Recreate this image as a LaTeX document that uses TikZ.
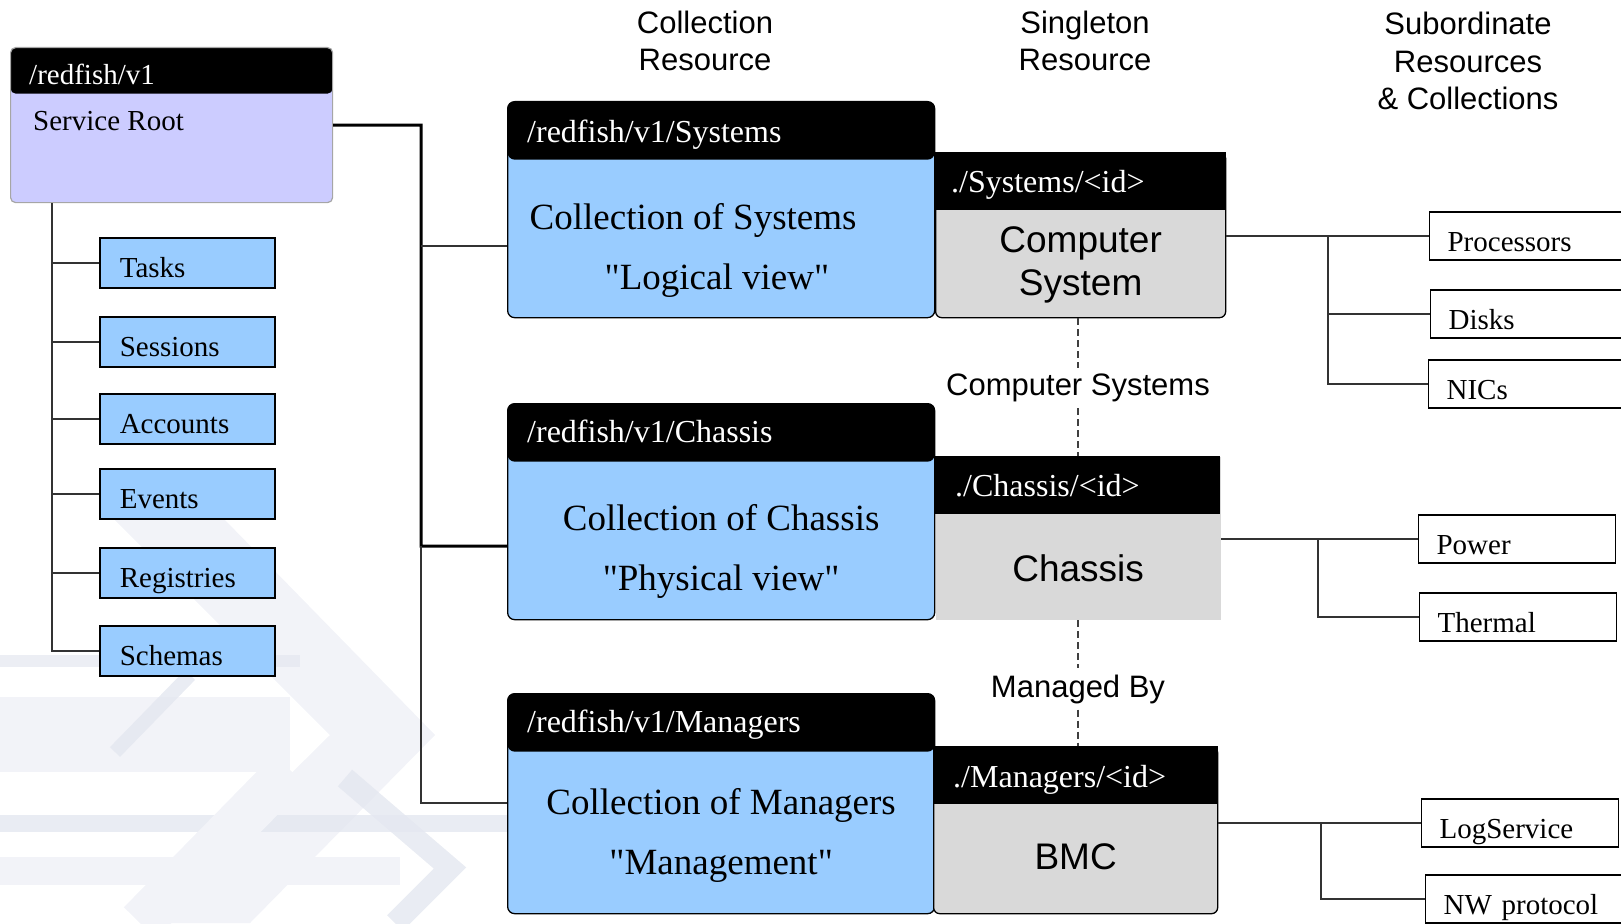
\documentclass[tikz,border=0pt]{standalone}
\usepackage{fontspec}
\setmainfont{Liberation Serif}[Ligatures=TeXOff]
\newfontfamily\arialfont{Liberation Sans}
\definecolor{rootfill}{HTML}{CCCCFF}
\definecolor{colfill}{HTML}{99CCFF}
\definecolor{sgfill}{HTML}{D9D9D9}
\definecolor{wmlight}{HTML}{F2F3F8}
\definecolor{wmdark}{HTML}{E4E7F0}
\begin{document}
\begin{tikzpicture}[x=1pt,y=-1pt,
	rootbox/.style={draw=gray!70, line width=1.2, fill=rootfill, rounded corners=5, anchor=north west, inner sep=0,
		minimum width=322, minimum height=155,
		path picture={\fill[black] (path picture bounding box.north west) rectangle ([yshift=-46pt]path picture bounding box.north east);}},
	colbox/.style={draw, line width=1.3, fill=colfill, rounded corners=7, anchor=north west, inner sep=0, minimum width=427,
		path picture={\fill[black] (path picture bounding box.north west) rectangle ([yshift=-58pt]path picture bounding box.north east);}},
	sgbox/.style={draw, line width=1.3, fill=sgfill, rounded corners=6, anchor=north west, inner sep=0},
	sghdr/.style={fill=black, anchor=north west, inner sep=0, minimum height=58},
	leaf/.style={draw, line width=1.6, fill=colfill, anchor=west, minimum width=175, minimum height=50,
		inner xsep=20, text width=135, align=left, text height=28pt, text depth=0pt, font=\fontsize{29}{29}\selectfont},
	sub/.style={draw, line width=1.2, fill=white, anchor=west, minimum width=197, minimum height=48,
		inner xsep=18, text width=161, align=left, text height=30pt, text depth=0pt, font=\fontsize{29}{29}\selectfont},
	hdrtxt/.style={anchor=west, text=white, inner sep=0, font=\fontsize{32}{32}\selectfont},
	coltxt/.style={align=center, font=\fontsize{37}{60}\selectfont},
	sgtxt/.style={align=center, font=\arialfont\fontsize{37}{43}\selectfont},
	heading/.style={align=center, font=\arialfont\fontsize{31}{37.5}\selectfont},
	rel/.style={inner xsep=2, inner ysep=6, font=\arialfont\fontsize{31}{31}\selectfont},
	wire/.style={line width=1.4, draw=black!80},
	bus/.style={line width=3, draw=black},
	dashline/.style={line width=1.2, draw=black!75, dash pattern=on 7pt off 4pt}]
	\useasboundingbox (0,0) rectangle (1621,923);

	% faint arrows in the background
	\fill[wmlight] (115,520) -- (225,520) -- (435,735) -- (250,923) -- (140,923) -- (330,735) -- cycle;
	\fill[wmlight] (0,697) rectangle (290,772);
	\fill[wmdark, opacity=.7] (0,655) rectangle (300,667);
	\fill[wmdark, opacity=.8] (0,815) rectangle (510,832);
	\fill[wmlight] (0,857) rectangle (400,885);
	\draw[wmdark, opacity=.8, line width=14] (190,675) -- (115,752);
	\draw[wmlight, line width=45] (290,770) -- (140,923);
	\draw[wmdark, opacity=.8, line width=22] (345,778) -- (450,868) -- (395,923);

	% column headings
	\node[heading] (hcol) at (705,41) {Collection\\Resource};
	\node[heading] (hsgl) at (1085,41) {Singleton\\Resource};
	\node[heading] (hsub) at (1468,61) {Subordinate\\Resources\\\& Collections};

	% service root
	\node[rootbox] (root) at (10,47) {};
	\node[hdrtxt, font=\fontsize{29}{29}\selectfont] (troot) at (29,74) {/redfish/v1};
	\node[anchor=west, inner sep=0, font=\fontsize{29}{29}\selectfont] (sroot) at (33,121) {Service Root};

	\node[leaf] (tasks) at (99,263) {Tasks};
	\node[leaf] (sess) at (99,342) {Sessions};
	\node[leaf] (acct) at (99,419) {Accounts};
	\node[leaf] (evt) at (99,494) {Events};
	\node[leaf] (reg) at (99,573) {Registries};
	\node[leaf] (sch) at (99,651) {Schemas};

	\coordinate (lt) at ([xshift=42pt]root.south west);
	\draw[wire] (lt) |- (sch.west);
	\draw[wire] (lt |- tasks.west) -- (tasks.west);
	\draw[wire] (lt |- sess.west) -- (sess.west);
	\draw[wire] (lt |- acct.west) -- (acct.west);
	\draw[wire] (lt |- evt.west) -- (evt.west);
	\draw[wire] (lt |- reg.west) -- (reg.west);

	% collections
	\node[colbox, minimum height=216] (csys) at (507,101) {};
	\node[colbox, minimum height=216] (cchas) at (507,403) {};
	\node[colbox, minimum height=220] (cmgr) at (507,693) {};
	\node[hdrtxt] (tcsys) at (527,135) {/redfish/v1/Systems};
	\node[hdrtxt] (tcchas) at (527,431) {/redfish/v1/Chassis};
	\node[hdrtxt] (tcmgr) at (527,725) {/redfish/v1/Managers};
	\node[coltxt, align=left] (dsys) at ([xshift=-28pt,yshift=-41pt]csys.center) {Collection of Systems\\\hspace*{75pt}"Logical view"};
	\node[coltxt] (dchas) at ([yshift=-40pt]cchas.center) {Collection of Chassis\\"Physical view"};
	\node[coltxt] (dmgr) at ([yshift=-32pt]cmgr.center) {Collection of Managers\\"Management"};

	\coordinate (rt) at ([xshift=88pt]root.east);
	\coordinate (js) at (421,246);
	\coordinate (jc) at (421,546);
	\coordinate (jm) at (421,803);
	\draw[bus] (root.east) -- (rt) -- (jc) -- (jc -| cchas.west);
	\draw[wire] (jc) -- (jm) -- (jm -| cmgr.west);
	\draw[wire] (js) -- (js -| csys.west);

	% singletons
	\node[sgbox, minimum width=290, minimum height=165] (sys) at (935,152) {};
	\node[sghdr, minimum width=291] (hsys) at (sys.north west) {};
	\node[sgbox, draw=none, sharp corners, minimum width=285, minimum height=163] (chas) at (935,456) {};
	\node[sghdr, minimum width=285] (hchas) at (chas.north west) {};
	\node[sgbox, minimum width=284, minimum height=167] (bmc) at (933,746) {};
	\node[sghdr, minimum width=285] (hbmc) at (bmc.north west) {};
	\node[hdrtxt] (isys) at ([xshift=16pt,yshift=-4pt]hsys.west) {./Systems/<id>};
	\node[hdrtxt] (ichas) at ([xshift=20pt]hchas.west) {./Chassis/<id>};
	\node[hdrtxt] (ibmc) at ([xshift=20pt,yshift=-5pt]hbmc.west) {./Managers/<id>};
	\node[sgtxt] (tsys) at ([yshift=-30pt]sys.center) {Computer\\System};
	\node[sgtxt] (tchas) at ([yshift=-30pt]chas.center) {Chassis};
	\node[sgtxt] (tbmc) at ([yshift=-27pt]bmc.center) {BMC};

	\node[rel] (lcs) at (1078,388) {Computer Systems};
	\node[rel] (lmb) at (1078,689) {Managed By};
	\draw[dashline] (lcs.north |- sys.south) -- (lcs.north);
	\draw[dashline] (lcs.south) -- (lcs.south |- chas.north);
	\draw[dashline] (lmb.north |- chas.south) -- (lmb.north);
	\draw[dashline] (lmb.south) -- (lmb.south |- bmc.north);

	% subordinates
	\node[sub] (proc) at (1429,236) {Processors};
	\node[sub] (disk) at (1430,314) {Disks};
	\node[sub] (nic) at (1428,384) {NICs};
	\node[sub] (pwr) at (1418,539) {Power};
	\node[sub] (therm) at (1419,617) {Thermal};
	\node[sub] (logs) at (1421,823) {LogService};
	\node[sub] (nwp) at (1425,899) {NW protocol};

	\coordinate (bs) at (1328,236);
	\coordinate (bc) at (1318,539);
	\coordinate (bb) at (1321,823);
	\draw[wire] (sys.east |- proc.west) -- (proc.west);
	\draw[wire] (bs) |- (nic.west);
	\draw[wire] (bs |- disk.west) -- (disk.west);
	\draw[wire] (chas.east |- pwr.west) -- (pwr.west);
	\draw[wire] (bc) |- (therm.west);
	\draw[wire] (bmc.east |- logs.west) -- (logs.west);
	\draw[wire] (bb) |- (nwp.west);
\end{tikzpicture}
\end{document}
